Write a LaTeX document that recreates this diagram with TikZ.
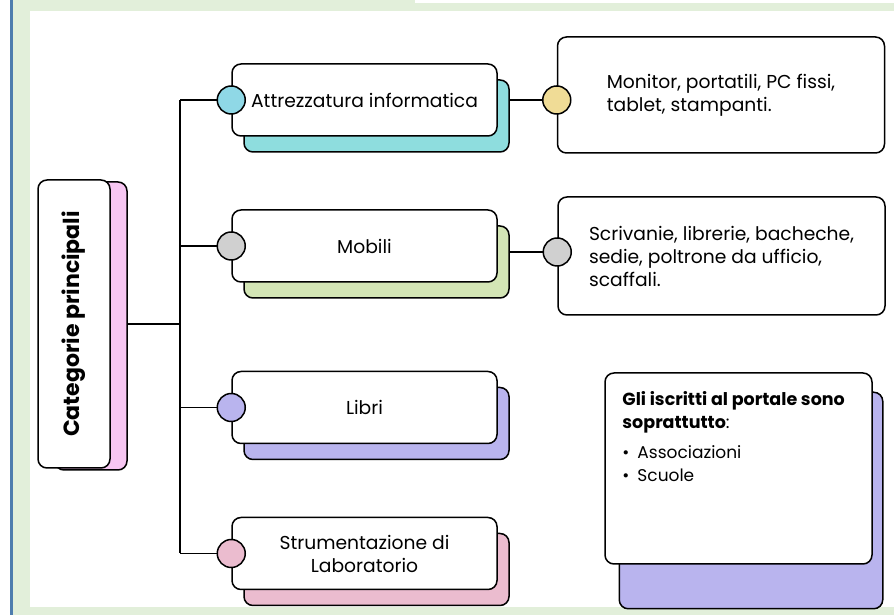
\documentclass[tikz,border=0pt]{standalone}
\usepackage{fontspec}
\setmainfont{Poppins}
\usetikzlibrary{positioning,shadows,backgrounds}

\definecolor{frameGreen}{RGB}{226,239,218}
\definecolor{frameBlue}{RGB}{78,125,174}
\definecolor{infoCyan}{RGB}{142,221,222}
\definecolor{dotCyan}{RGB}{143,216,230}
\definecolor{dotYellow}{RGB}{240,220,150}
\definecolor{furnGreen}{RGB}{211,229,181}
\definecolor{dotGrey}{RGB}{208,208,208}
\definecolor{bookLilac}{RGB}{185,180,238}
\definecolor{labPink}{RGB}{235,188,207}
\definecolor{catPink}{RGB}{247,198,242}

\begin{document}
\begin{tikzpicture}[x=1pt,y=1pt]
            \tikzset{cat/.style={draw, rounded corners=9pt, fill=white, line width=1.5pt, minimum width=265pt, minimum height=72pt, align=center, font=\fontsize{18.7}{23}\selectfont, copy shadow={shadow xshift=12pt, shadow yshift=-16pt, fill=#1, draw=black, line width=1.5pt}},
                     detail/.style={draw, rounded corners=9pt, fill=white, line width=1.5pt, minimum width=327pt, align=left, font=\fontsize{18.7}{23}\selectfont},
                     dot/.style={draw, circle, line width=1.5pt, minimum size=28pt, inner sep=0pt, fill=#1},
                     link/.style={line width=1.4pt}}
            \useasboundingbox (0,0) rectangle (894,615);

            % main category
            \node[draw, rounded corners=9pt, fill=white, line width=1.5pt, minimum width=72pt, minimum height=288pt, inner sep=0pt,
                  copy shadow={shadow xshift=17pt, shadow yshift=-2pt, fill=catPink, draw=black, line width=1.5pt}]
                  (main) at (74,291) {\rotatebox{90}{\fontsize{22}{26}\selectfont\bfseries Categorie principali}};
            \coordinate (spine) at (180,0);

            % categories
            \node[cat=infoCyan] (attr) at (364.5,515) {Attrezzatura informatica};
            \node[cat=furnGreen] (mobili) at (364.5,369) {Mobili};
            \node[cat=bookLilac] (libri) at (364.5,207.5) {Libri};
            \node[cat=labPink] (strum) at (364.5,61.5) {Strumentazione di\\Laboratorio};

            \node[dot=dotCyan] (attrDot) at (attr.west) {};
            \node[dot=dotGrey] (mobiliDot) at (mobili.west) {};
            \node[dot=bookLilac] (libriDot) at (libri.west) {};
            \node[dot=labPink] (strumDot) at (strum.west) {};

            % details
            \node[detail, minimum height=116pt] (monitor) at (721,520) {Monitor, portatili, PC fissi,\\tablet, stampanti.};
            \node[detail, minimum height=118pt] (scriv) at (721.5,359) {Scrivanie, librerie, bacheche,\\sedie, poltrone da ufficio,\\scaffali.};
            \node[dot=dotYellow] (monitorDot) at (monitor.west |- attr.east) {};
            \node[dot=dotGrey] (scrivDot) at (scriv.west |- 0,363) {};

            % note
            \node[draw, rounded corners=9pt, fill=white, line width=1.5pt, minimum width=267pt, minimum height=191pt] (note) at (738.5,146.5) {};
            \node[anchor=north west, align=left, inner sep=0pt, font=\fontsize{17.5}{23}\selectfont] (noteText) at ([shift={(18,-19)}]note.north west)
                  {\textbf{Gli iscritti al portale sono}\\\textbf{soprattutto}:\\[7pt]
                   {\fontsize{17}{22}\selectfont\textbullet\hspace{8pt}Associazioni}\\{\fontsize{17}{22}\selectfont\textbullet\hspace{8pt}Scuole}};

            \begin{scope}[on background layer]
                \fill[white] (0,0) rectangle (10,615);
                \fill[frameBlue] (10,0) rectangle (13,615);
                \fill[frameGreen] (13,0) rectangle (894,615);
                \fill[white] (30,8) rectangle (894,604);
                \fill[white] (415,612) rectangle (894,615);

                \draw[link] (main.east) -- (main.east -| spine);
                \draw[link] (attrDot -| spine) -- (strumDot -| spine);
                \draw[link] (attrDot -| spine) -- (attrDot);
                \draw[link] (mobiliDot -| spine) -- (mobiliDot);
                \draw[link] (libriDot -| spine) -- (libriDot);
                \draw[link] (strumDot -| spine) -- (strumDot);
                \draw[link] (attr.east) -- (monitorDot);
                \draw[link] (scrivDot -| mobili.east) -- (scrivDot);

                \draw[fill=bookLilac, line width=1.5pt, rounded corners=9pt] ([shift={(15,-20)}]note.north west) rectangle ([shift={(10,-44)}]note.south east);
            \end{scope}
        \end{tikzpicture}
\end{document}
